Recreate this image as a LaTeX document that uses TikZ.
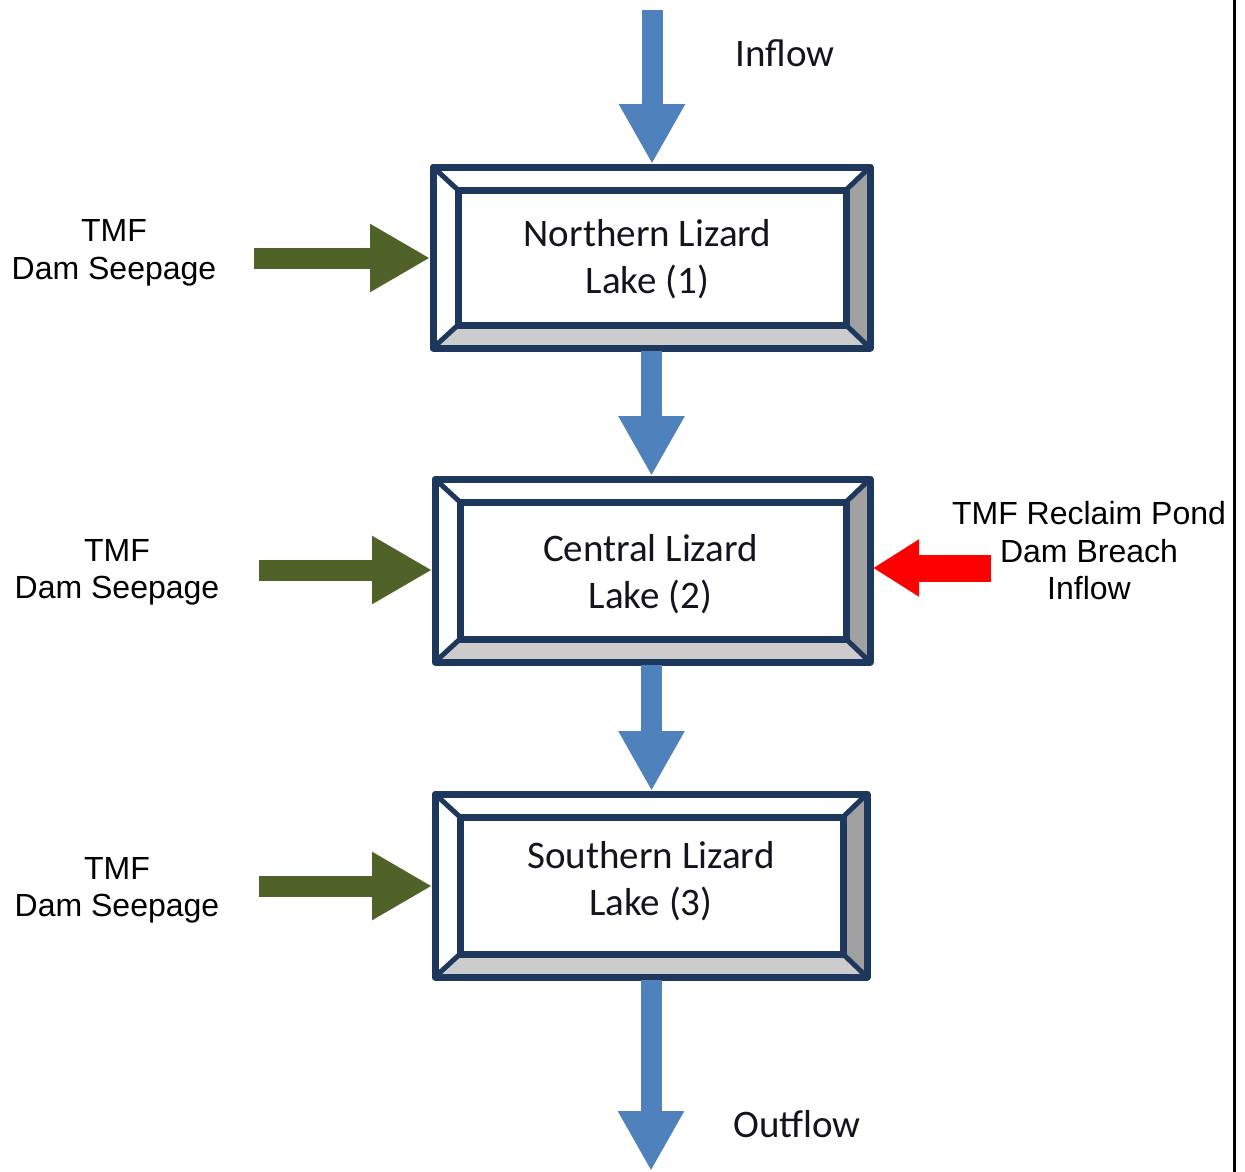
\documentclass[tikz,border=0pt]{standalone}
\usepackage{fontspec}
\setmainfont{Liberation Sans}
\newfontfamily\calfont{Carlito}
\usetikzlibrary{arrows.meta}
\definecolor{navy}{RGB}{29,55,93}
\definecolor{flowblue}{RGB}{79,129,189}
\definecolor{seepgreen}{RGB}{79,98,40}
\definecolor{bevelgray}{RGB}{160,160,160}
\definecolor{bevellight}{RGB}{204,204,204}
\definecolor{boxtext}{RGB}{20,20,30}
\tikzset{
  lakebox/.style={inner sep=0pt, outer sep=3pt, align=center, font=\calfont\fontsize{39}{47}\selectfont, text=boxtext},
  flowlabel/.style={inner sep=0pt, font=\calfont\fontsize{39}{47}\selectfont, text=boxtext},
  sidelabel/.style={inner sep=0pt, align=center, font=\fontsize{32}{37.5}\selectfont},
  blueflow/.style={draw=flowblue, line width=21pt, -{Triangle[width=62pt,length=60pt]}},
  greenflow/.style={draw=seepgreen, line width=21pt, -{Triangle[width=64pt,length=60pt]}},
  redflow/.style={draw=red, line width=27pt, -{Triangle[width=54pt,length=46pt]}},
  bevelline/.style={draw=navy, line width=5pt},
  boxline/.style={draw=navy, line width=7pt, line join=round},
}
% #1 name, #2 x1, #3 y1, #4 x2, #5 y2, #6 text, #7 text x offset, #8 text y offset
\newcommand{\bevelbox}[8]{%
  \fill[bevelgray] (#4,#3) -- (#4,#5) -- ({#4-24},{#5-23}) -- ({#4-24},{#3+23}) -- cycle;
  \fill[bevellight] (#2,#5) -- (#4,#5) -- ({#4-24},{#5-23}) -- ({#2+25},{#5-23}) -- cycle;
  \draw[bevelline] (#2,#3) -- ({#2+25},{#3+23});
  \draw[bevelline] (#4,#3) -- ({#4-24},{#3+23});
  \draw[bevelline] (#2,#5) -- ({#2+25},{#5-23});
  \draw[bevelline] (#4,#5) -- ({#4-24},{#5-23});
  \draw[boxline] ({#2+25},{#3+23}) rectangle ({#4-24},{#5-23});
  \draw[boxline] (#2,#3) rectangle (#4,#5);
  \node[lakebox, minimum width={#4-#2}, minimum height={#5-#3}] (#1) at ({(#2+#4)/2},{(#3+#5)/2}) {};
  \node[lakebox] (#1t) at ({(#2+#4)/2+#7},{(#3+#5)/2+#8}) {#6};
}
\begin{document}
\begin{tikzpicture}[x=1pt,y=-1pt]
\useasboundingbox (0,0) rectangle (1245,1172);
\fill[white] (0,0) rectangle (1245,1172);
\draw[line width=3pt] (1234,0) -- (1234,1172);

\bevelbox{b1}{433}{167}{870}{348}{Northern Lizard\\Lake (1)}{-4}{2}
\bevelbox{b2}{435}{479}{870}{662}{Central Lizard\\Lake (2)}{-2}{4}
\bevelbox{b3}{435}{794}{867}{977}{Southern Lizard\\Lake (3)}{0}{-4}

\coordinate (inTop) at (652,10);
\coordinate (outBot) at (651,1171);
\coordinate (g1) at (254,258);
\coordinate (g2) at (259,570);
\coordinate (g3) at (259,886);
\coordinate (r2) at (991,568);

\draw[blueflow] (inTop) -- (b1.north -| inTop);
\draw[blueflow] (b1.south) -- (b2.north -| b1.south);
\draw[blueflow] (b2.south -| b1.south) -- (b3.north -| b1.south);
\draw[blueflow] (b3.south -| outBot) -- (outBot);

\draw[greenflow] (g1) -- (b1.west |- g1);
\draw[greenflow] (g2) -- (b2.west |- g2);
\draw[greenflow] (g3) -- (b3.west |- g3);
\draw[redflow] (r2) -- (b2.east |- r2);

\node[flowlabel] (inflow) at (785,53) {Inflow};
\node[flowlabel] (outflow) at (797,1124) {Outflow};

\node[sidelabel] (s1) at (114,253) {TMF\\Dam Seepage};
\node[sidelabel] (s2) at (117,572.5) {TMF\\Dam Seepage};
\node[sidelabel] (s3) at (117,890.5) {TMF\\Dam Seepage};
\node[sidelabel] (rp) at (1089,551) {TMF Reclaim Pond\\Dam Breach\\Inflow};
\end{tikzpicture}
\end{document}
